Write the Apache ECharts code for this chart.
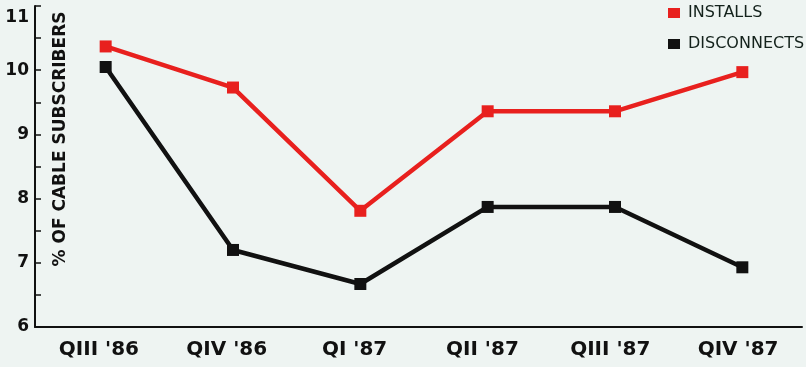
<!DOCTYPE html>
<html>
<head>
<meta charset="utf-8">
<script src="https://cdn.jsdelivr.net/npm/echarts@6/dist/echarts.min.js"></script>
<style>
  html, body { margin: 0; padding: 0; background: #eef4f2; }
  #chart { width: 806px; height: 367px; }
</style>
</head>
<body>
<div id="chart"></div>
<script>
var quarters = ["QIII '86", "QIV '86", "QI '87", "QII '87", "QIII '87", "QIV '87"];
var installs = [10.37, 9.73, 7.81, 9.36, 9.36, 9.97];
var disconnects = [10.05, 7.2, 6.67, 7.87, 7.87, 6.93];
var yTicks = [6, 7, 8, 9, 10, 11];

window.onload = function () {
  var chart = echarts.init(document.getElementById('chart'));

  var yMin = yTicks[0];
  var yMax = yTicks[yTicks.length - 1];

  var option = {
    backgroundColor: '#eef4f2',
    animation: false,
    textStyle: { fontFamily: 'DejaVu Sans' },
    // grid 0 carries the visible axes, grid 1 (shifted a few px right, as in the scan) the lines
    grid: [
      { left: 35, right: 4, top: 6, bottom: 40 },
      { left: 42, right: -2, top: 6, bottom: 40 }
    ],
    legend: {
      orient: 'vertical',
      left: 668,
      top: 5,
      padding: 0,
      itemGap: 15,
      itemWidth: 12,
      itemHeight: 10,
      icon: 'rect',
      textStyle: {
        color: '#14221c',
        fontSize: 16,
        lineHeight: 16,
        fontFamily: 'DejaVu Sans',
        fontWeight: 'normal',
        padding: [0, 0, 0, 3]
      },
      data: ['INSTALLS', 'DISCONNECTS']
    },
    graphic: [{
      type: 'text',
      x: 61,
      y: 139,
      rotation: Math.PI / 2,
      style: {
        text: '% OF CABLE SUBSCRIBERS',
        fill: '#111',
        font: 'bold 17px "DejaVu Sans"',
        align: 'center',
        verticalAlign: 'middle'
      }
    }],
    xAxis: [
      {
        type: 'category',
        gridIndex: 0,
        data: quarters,
        boundaryGap: true,
        axisLine: { lineStyle: { color: '#111', width: 2 } },
        axisTick: { inside: true, length: 5, lineStyle: { color: '#111', width: 1.5 } },
        axisLabel: {
          color: '#111',
          fontSize: 20,
          fontWeight: 'bold',
          fontFamily: 'DejaVu Sans',
          margin: 13
        },
        splitLine: { show: false }
      },
      {
        type: 'category',
        gridIndex: 1,
        data: quarters,
        boundaryGap: true,
        show: false
      }
    ],
    yAxis: [
      {
        type: 'value',
        gridIndex: 0,
        min: yMin,
        max: yMax,
        interval: 1,
        axisLine: { show: true, lineStyle: { color: '#111', width: 2 } },
        axisTick: { show: true, inside: true, length: 6, lineStyle: { color: '#111', width: 1.5 } },
        minorTick: { show: true, splitNumber: 2, length: 6, lineStyle: { color: '#111', width: 1.5 } },
        axisLabel: {
          color: '#111',
          fontSize: 17,
          fontWeight: 'bold',
          fontFamily: 'DejaVu Sans',
          margin: 6,
          formatter: function (v) {
            return v === 11 ? '{top|11}' : String(v);
          },
          rich: {
            top: {
              fontSize: 17,
              fontWeight: 'bold',
              fontFamily: 'DejaVu Sans',
              color: '#111',
              padding: [24, 0, 0, 0]
            }
          }
        },
        splitLine: { show: false }
      },
      {
        type: 'value',
        gridIndex: 1,
        min: yMin,
        max: yMax,
        interval: 1,
        show: false,
        splitLine: { show: false }
      }
    ],
    series: [
      {
        name: 'INSTALLS',
        type: 'line',
        xAxisIndex: 1,
        yAxisIndex: 1,
        data: installs,
        color: '#e8201e',
        symbol: 'rect',
        symbolSize: 12,
        lineStyle: { width: 4.5, color: '#e8201e' },
        itemStyle: { color: '#e8201e' },
        z: 3
      },
      {
        name: 'DISCONNECTS',
        type: 'line',
        xAxisIndex: 1,
        yAxisIndex: 1,
        data: disconnects,
        color: '#111',
        symbol: 'rect',
        symbolSize: 12,
        lineStyle: { width: 4.5, color: '#111' },
        itemStyle: { color: '#111' },
        z: 2
      }
    ]
  };

  chart.setOption(option);
};
</script>
</body>
</html>
